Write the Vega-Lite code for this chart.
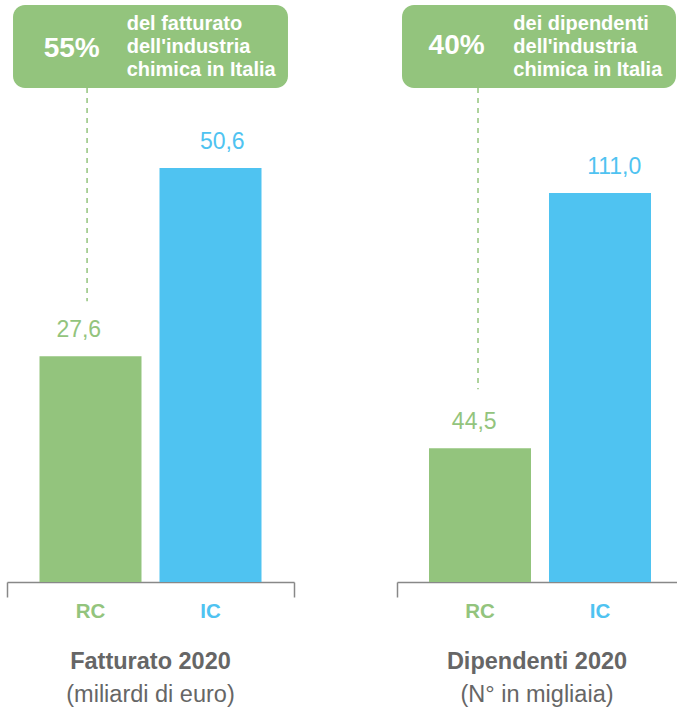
{
  "$schema": "https://vega.github.io/schema/vega-lite/v6.json",
  "padding": {"left": 6, "top": 5, "right": 0, "bottom": 0},
  "spacing": 101,
  "config": {
    "font": "Liberation Sans",
    "view": {"stroke": null},
    "locale": {"number": {"decimal": ",", "thousands": ".", "grouping": [3], "currency": ["", " €"]}},
    "title": {"font": "Liberation Sans", "fontSize": 23.5, "fontWeight": "bold", "color": "#666666", "subtitleFont": "Liberation Sans", "subtitleFontSize": 23.5, "subtitleFontWeight": "normal", "subtitleColor": "#666666", "subtitlePadding": 10, "orient": "bottom", "anchor": "middle", "offset": 28}
  },
  "datasets": {
    "fatt": [{"cat": "RC", "val": 27.6}, {"cat": "IC", "val": 50.6}],
    "dip": [{"cat": "RC", "val": 44.5}, {"cat": "IC", "val": 111.0}],
    "noteF": [{"pct": "55%", "desc": "del fatturato\ndell'industria\nchimica in Italia"}],
    "noteD": [{"pct": "40%", "desc": "dei dipendenti\ndell'industria\nchimica in Italia"}]
  },
  "hconcat": [
    {
      "width": 287,
      "height": 577,
      "title": {"text": "Fatturato 2020", "subtitle": "(miliardi di euro)"},
      "layer": [
        {
          "data": {"name": "noteF"},
          "mark": {"type": "rect", "cornerRadius": 12, "color": "#93c47d"},
          "encoding": {
            "x": {"datum": 0.021, "type": "quantitative", "scale": {"domain": [0, 1], "nice": false, "zero": false},
              "axis": {"orient": "bottom", "values": [0, 1], "labels": false, "ticks": true, "tickSize": 15, "tickColor": "#888888", "tickWidth": 1.5, "domain": true, "domainColor": "#888888", "domainWidth": 1.5, "grid": false, "title": null}},
            "x2": {"datum": 0.979},
            "y": {"datum": 70.52, "type": "quantitative", "scale": {"domain": [0, 70.52], "nice": false}, "axis": null},
            "y2": {"datum": 60.38}
          }
        },
        {
          "data": {"name": "noteF"},
          "mark": {"type": "text", "color": "white", "fontSize": 28, "fontWeight": "bold", "align": "center", "baseline": "middle"},
          "encoding": {
            "x": {"datum": 0.2254, "type": "quantitative", "scale": {"domain": [0, 1], "nice": false, "zero": false}, "axis": null},
            "y": {"datum": 65.2, "type": "quantitative", "axis": null},
            "text": {"field": "pct"}
          }
        },
        {
          "data": {"name": "noteF"},
          "mark": {"type": "text", "color": "white", "fontSize": 20, "fontWeight": "bold", "align": "left", "baseline": "middle", "lineBreak": "\n", "lineHeight": 23},
          "encoding": {
            "x": {"datum": 0.417, "type": "quantitative", "scale": {"domain": [0, 1], "nice": false, "zero": false}, "axis": null},
            "y": {"datum": 68.2, "type": "quantitative", "axis": null},
            "text": {"field": "desc"}
          }
        },
        {
          "data": {"name": "noteF"},
          "mark": {"type": "rule", "color": "#93c47d", "strokeDash": [5, 5], "strokeWidth": 1.5},
          "encoding": {
            "x": {"datum": 0.279, "type": "quantitative", "scale": {"domain": [0, 1], "nice": false, "zero": false}, "axis": null},
            "y": {"datum": 60.38, "type": "quantitative", "axis": null},
            "y2": {"datum": 34.3}
          }
        },
        {
          "data": {"name": "fatt"},
          "mark": {"type": "bar"},
          "encoding": {
            "x": {"field": "cat", "type": "nominal", "sort": ["RC", "IC"],
              "scale": {"paddingInner": 0.15, "paddingOuter": 0.27083},
              "axis": {"orient": "bottom", "domain": false, "ticks": false, "labelPadding": 29, "labelBaseline": "middle", "labelAngle": 0, "labelFontSize": 20.5, "labelFontWeight": "bold", "labelColor": {"condition": {"test": "datum.value == 'RC'", "value": "#93c47d"}, "value": "#4fc3f1"}, "title": null}},
            "y": {"field": "val", "type": "quantitative", "scale": {"domain": [0, 70.52], "nice": false}, "axis": null},
            "color": {"field": "cat", "type": "nominal", "scale": {"domain": ["RC", "IC"], "range": ["#93c47d", "#4fc3f1"]}, "legend": null}
          }
        },
        {
          "data": {"name": "fatt"},
          "mark": {"type": "text", "fontSize": 23, "baseline": "alphabetic", "dy": -19},
          "encoding": {
            "x": {"field": "cat", "type": "nominal", "sort": ["RC", "IC"], "scale": {"paddingInner": 0.15, "paddingOuter": 0.27083}, "axis": null},
            "y": {"field": "val", "type": "quantitative", "axis": null},
            "color": {"field": "cat", "type": "nominal", "legend": null},
            "text": {"field": "val", "type": "quantitative", "format": ".1f"}
          }
        }
      ],
      "resolve": {"scale": {"x": "independent"}, "axis": {"x": "independent"}}
    },
    {
      "width": 280,
      "height": 577,
      "title": {"text": "Dipendenti 2020", "subtitle": "(N° in migliaia)"},
      "layer": [
        {
          "data": {"name": "noteD"},
          "mark": {"type": "rect", "cornerRadius": 12, "color": "#93c47d"},
          "encoding": {
            "x": {"datum": 0.0179, "type": "quantitative", "scale": {"domain": [0, 1], "nice": false, "zero": false},
              "axis": {"orient": "bottom", "values": [0], "labels": false, "ticks": true, "tickSize": 15, "tickColor": "#888888", "tickWidth": 1.5, "domain": true, "domainColor": "#888888", "domainWidth": 1.5, "grid": false, "title": null}},
            "x2": {"datum": 0.9964},
            "y": {"datum": 160, "type": "quantitative", "scale": {"domain": [9.67, 160], "nice": false, "zero": false, "clamp": true}, "axis": null},
            "y2": {"datum": 138.4}
          }
        },
        {
          "data": {"name": "noteD"},
          "mark": {"type": "text", "color": "white", "fontSize": 28, "fontWeight": "bold", "align": "center", "baseline": "middle"},
          "encoding": {
            "x": {"datum": 0.213, "type": "quantitative", "scale": {"domain": [0, 1], "nice": false, "zero": false}, "axis": null},
            "y": {"datum": 149.3, "type": "quantitative", "axis": null},
            "text": {"field": "pct"}
          }
        },
        {
          "data": {"name": "noteD"},
          "mark": {"type": "text", "color": "white", "fontSize": 20, "fontWeight": "bold", "align": "left", "baseline": "middle", "lineBreak": "\n", "lineHeight": 23},
          "encoding": {
            "x": {"datum": 0.4155, "type": "quantitative", "scale": {"domain": [0, 1], "nice": false, "zero": false}, "axis": null},
            "y": {"datum": 155.0, "type": "quantitative", "axis": null},
            "text": {"field": "desc"}
          }
        },
        {
          "data": {"name": "noteD"},
          "mark": {"type": "rule", "color": "#93c47d", "strokeDash": [5, 5], "strokeWidth": 1.5},
          "encoding": {
            "x": {"datum": 0.2893, "type": "quantitative", "scale": {"domain": [0, 1], "nice": false, "zero": false}, "axis": null},
            "y": {"datum": 138.4, "type": "quantitative", "axis": null},
            "y2": {"datum": 59.9}
          }
        },
        {
          "data": {"name": "dip"},
          "mark": {"type": "bar"},
          "encoding": {
            "x": {"field": "cat", "type": "nominal", "sort": ["RC", "IC"],
              "scale": {"paddingInner": 0.15, "paddingOuter": 0.24167, "align": 0.5517},
              "axis": {"orient": "bottom", "domain": false, "ticks": false, "labelPadding": 29, "labelBaseline": "middle", "labelAngle": 0, "labelFontSize": 20.5, "labelFontWeight": "bold", "labelColor": {"condition": {"test": "datum.value == 'RC'", "value": "#93c47d"}, "value": "#4fc3f1"}, "title": null}},
            "y": {"field": "val", "type": "quantitative", "scale": {"domain": [9.67, 160], "nice": false, "zero": false, "clamp": true}, "axis": null},
            "color": {"field": "cat", "type": "nominal", "scale": {"domain": ["RC", "IC"], "range": ["#93c47d", "#4fc3f1"]}, "legend": null}
          }
        },
        {
          "data": {"name": "dip"},
          "mark": {"type": "text", "fontSize": 23, "baseline": "alphabetic", "dy": -19},
          "encoding": {
            "x": {"field": "cat", "type": "nominal", "sort": ["RC", "IC"], "scale": {"paddingInner": 0.15, "paddingOuter": 0.24167, "align": 0.5517}, "axis": null},
            "y": {"field": "val", "type": "quantitative", "axis": null},
            "color": {"field": "cat", "type": "nominal", "legend": null},
            "text": {"field": "val", "type": "quantitative", "format": ".1f"}
          }
        }
      ],
      "resolve": {"scale": {"x": "independent"}, "axis": {"x": "independent"}}
    }
  ]
}
